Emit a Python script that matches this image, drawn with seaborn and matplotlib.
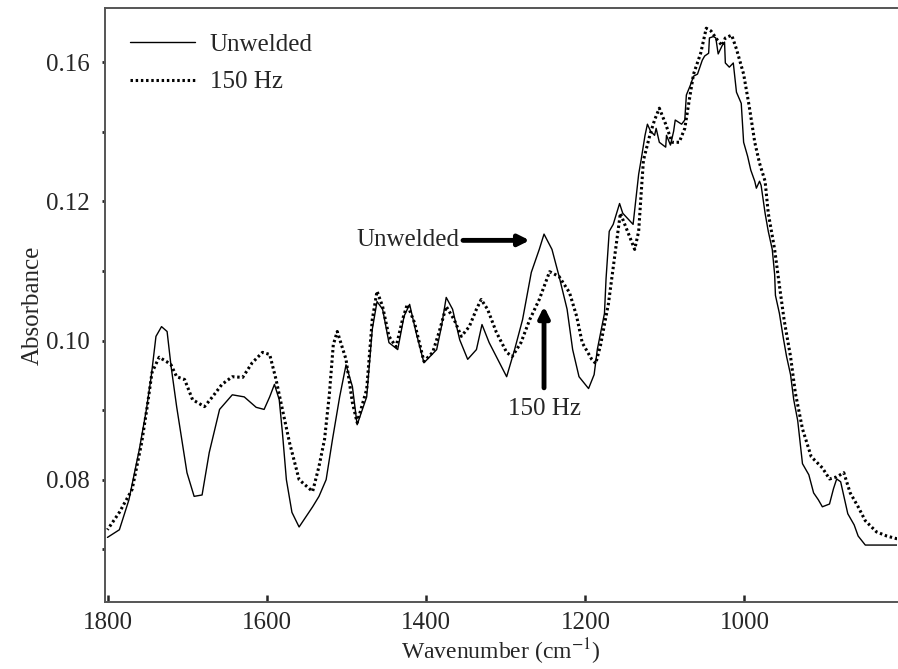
import pandas as pd
import numpy as np
import matplotlib
matplotlib.use('Agg')
import matplotlib.pyplot as plt
import seaborn as sns

# spectra (wavenumber in cm-1, absorbance)
unwelded_wn = [1801, 1786, 1774, 1761, 1752, 1746, 1740, 1733, 1726, 1721, 1714, 1701, 1692, 1682,
               1673, 1660, 1644, 1629, 1614, 1604, 1597, 1591, 1585, 1581, 1576, 1569, 1560, 1543,
               1535, 1526, 1518, 1509, 1501, 1493, 1487, 1475, 1468, 1462, 1455, 1447, 1436, 1428,
               1421, 1413, 1403, 1387, 1381, 1375, 1367, 1358, 1348, 1337, 1330, 1321, 1308, 1299,
               1289, 1279, 1268, 1258, 1252, 1242, 1233, 1223, 1216, 1208, 1196, 1189, 1185, 1176,
               1174, 1170, 1165, 1157, 1153, 1140, 1133, 1130, 1125, 1122, 1118, 1113, 1111, 1107,
               1099, 1098, 1093, 1089, 1087, 1079, 1075, 1073, 1068, 1064, 1059, 1053, 1050, 1045,
               1044, 1039, 1036, 1033, 1028, 1025, 1024, 1019, 1014, 1010, 1004, 1001, 996, 992,
               987, 985, 981, 979, 974, 970, 965, 962, 961, 956, 951, 947, 942, 938, 933, 927, 919,
               913, 907, 902, 893, 888, 884, 879, 870, 862, 857, 848, 808]
unwelded_abs = [0.0717, 0.0728, 0.0771, 0.0843, 0.0901, 0.0948, 0.1006, 0.1020, 0.1013, 0.0963,
                0.0905, 0.0810, 0.0776, 0.0778, 0.0839, 0.0901, 0.0922, 0.0919, 0.0904, 0.0901,
                0.0919, 0.0937, 0.0915, 0.0868, 0.0800, 0.0753, 0.0732, 0.0761, 0.0776, 0.0800,
                0.0858, 0.0919, 0.0965, 0.0934, 0.0879, 0.0919, 0.1016, 0.1056, 0.1045, 0.0997,
                0.0987, 0.1035, 0.1052, 0.1012, 0.0968, 0.0987, 0.1020, 0.1062, 0.1045, 0.1001,
                0.0973, 0.0987, 0.1023, 0.0997, 0.0968, 0.0948, 0.0987, 0.1030, 0.1098, 0.1131,
                0.1153, 0.1131, 0.1092, 0.1045, 0.0987, 0.0948, 0.0931, 0.0951, 0.0987, 0.1039,
                0.1089, 0.1157, 0.1167, 0.1197, 0.1183, 0.1167, 0.1239, 0.1259, 0.1295, 0.1311,
                0.1301, 0.1295, 0.1305, 0.1285, 0.1278, 0.1295, 0.1281, 0.1301, 0.1317, 0.1311,
                0.1317, 0.1353, 0.1367, 0.1380, 0.1383, 0.1403, 0.1409, 0.1413, 0.1435, 0.1437,
                0.1435, 0.1412, 0.1424, 0.1429, 0.1399, 0.1393, 0.1399, 0.1357, 0.1341, 0.1285,
                0.1265, 0.1245, 0.1229, 0.1219, 0.1229, 0.1223, 0.1183, 0.1157, 0.1131, 0.1095,
                0.1065, 0.1039, 0.1003, 0.0977, 0.0951, 0.0915, 0.0885, 0.0823, 0.0807, 0.0781,
                0.0771, 0.0761, 0.0765, 0.0787, 0.0801, 0.0797, 0.0751, 0.0735, 0.0719, 0.0706,
                0.0706]

hz150_wn = [1801, 1786, 1770, 1758, 1751, 1745, 1736, 1727, 1721, 1714, 1704, 1694, 1679, 1669,
            1657, 1644, 1631, 1619, 1606, 1597, 1589, 1581, 1572, 1560, 1543, 1535, 1528, 1522,
            1517, 1512, 1501, 1493, 1487, 1475, 1468, 1462, 1455, 1447, 1438, 1430, 1424, 1415,
            1403, 1392, 1384, 1375, 1365, 1356, 1346, 1337, 1331, 1323, 1312, 1299, 1292, 1281,
            1270, 1258, 1245, 1233, 1220, 1211, 1204, 1192, 1187, 1181, 1171, 1162, 1156, 1147,
            1138, 1133, 1130, 1127, 1119, 1113, 1107, 1099, 1091, 1082, 1075, 1070, 1064, 1055,
            1048, 1042, 1034, 1028, 1024, 1016, 1010, 1001, 994, 987, 981, 974, 970, 962, 956,
            950, 942, 936, 927, 916, 902, 893, 884, 875, 867, 857, 848, 834, 821, 808]
hz150_abs = [0.0728, 0.0753, 0.0786, 0.0853, 0.0905, 0.0954, 0.0976, 0.0970, 0.0965, 0.0948,
             0.0944, 0.0915, 0.0905, 0.0919, 0.0937, 0.0948, 0.0947, 0.0968, 0.0983, 0.0980,
             0.0944, 0.0901, 0.0853, 0.0800, 0.0783, 0.0819, 0.0858, 0.0922, 0.0994, 0.1013,
             0.0973, 0.0911, 0.0882, 0.0930, 0.1030, 0.1071, 0.1049, 0.1006, 0.0991, 0.1030,
             0.1052, 0.1026, 0.0970, 0.0983, 0.1012, 0.1049, 0.1030, 0.1006, 0.1020, 0.1045,
             0.1059, 0.1045, 0.1012, 0.0983, 0.0977, 0.0997, 0.1030, 0.1059, 0.1099, 0.1092,
             0.1069, 0.1035, 0.0997, 0.0973, 0.0967, 0.0993, 0.1053, 0.1131, 0.1183, 0.1157,
             0.1131, 0.1157, 0.1209, 0.1259, 0.1295, 0.1317, 0.1334, 0.1311, 0.1285, 0.1285,
             0.1305, 0.1341, 0.1383, 0.1413, 0.1449, 0.1445, 0.1432, 0.1424, 0.1435, 0.1439,
             0.1419, 0.1383, 0.1337, 0.1285, 0.1255, 0.1229, 0.1183, 0.1131, 0.1079, 0.1029,
             0.0977, 0.0925, 0.0873, 0.0833, 0.0817, 0.0801, 0.0804, 0.0810, 0.0781, 0.0761,
             0.0741, 0.0725, 0.0719, 0.0715]

y_ticks = [0.08, 0.10, 0.12, 0.14]
y_ticklabels = ['0.08', '0.10', '0.12', '0.16']
x_ticks = [1800, 1600, 1400, 1200, 1000]

sns.set_style('ticks')
plt.rcParams['font.family'] = ['Liberation Serif', 'DejaVu Serif']
plt.rcParams['mathtext.fontset'] = 'stix'

fs = 18

fig = plt.figure(figsize=(8.98, 6.69), dpi=100)
ax = fig.add_axes([0.117, 0.100, 0.882, 0.888])

df_u = pd.DataFrame({'wn': unwelded_wn, 'abs': unwelded_abs})
df_h = pd.DataFrame({'wn': hz150_wn, 'abs': hz150_abs})
sns.lineplot(data=df_u, x='wn', y='abs', ax=ax, color='black', lw=1.0,
             estimator=None, label='Unwelded')
sns.lineplot(data=df_h, x='wn', y='abs', ax=ax, color='black', lw=2.2,
             linestyle=(0, (0.8, 0.9)), estimator=None, label='150 Hz')

ax.set_xlim(1804, 808)
ax.set_ylim(0.0624, 0.1478)
ax.set_xticks(x_ticks)
ax.set_xticklabels([str(t) for t in x_ticks], fontsize=fs)
ax.set_yticks(y_ticks)
ax.set_yticklabels(y_ticklabels, fontsize=fs)
ax.set_yticks([0.07, 0.09, 0.11, 0.13], minor=True)
ax.tick_params(axis='x', direction='in', length=5, width=1.8, pad=7)
ax.tick_params(axis='y', which='both', direction='out', length=2, width=2, pad=9)

ax.set_xlabel('Wavenumber (cm$^{-1}$)', fontsize=17, labelpad=2)
ax.set_ylabel('Absorbance', fontsize=fs, labelpad=2)

for side in ['left', 'top', 'bottom']:
    ax.spines[side].set_color('#555555')
    ax.spines[side].set_linewidth(1.4)
ax.spines['right'].set_visible(False)

leg = ax.legend(loc='upper left', bbox_to_anchor=(0.003, 0.995), frameon=False, fontsize=fs,
                handlelength=2.6, handletextpad=0.6, labelspacing=0.6,
                borderaxespad=0.5)

# annotations pointing at the 1250 band
ax.annotate('Unwelded', xy=(1270, 0.1144), xytext=(1358, 0.1144),
            fontsize=fs, ha='right', va='center',
            arrowprops=dict(arrowstyle='-|>', lw=3.5, color='black',
                            mutation_scale=16, shrinkA=0, shrinkB=0))
ax.annotate('', xy=(1252, 0.1049), xytext=(1252, 0.0932),
            arrowprops=dict(arrowstyle='-|>', lw=3.5, color='black',
                            mutation_scale=16, shrinkA=0, shrinkB=0))
ax.text(1252, 0.0901, '150 Hz', fontsize=fs, ha='center', va='center')

fig.savefig('out.png', dpi=100)
